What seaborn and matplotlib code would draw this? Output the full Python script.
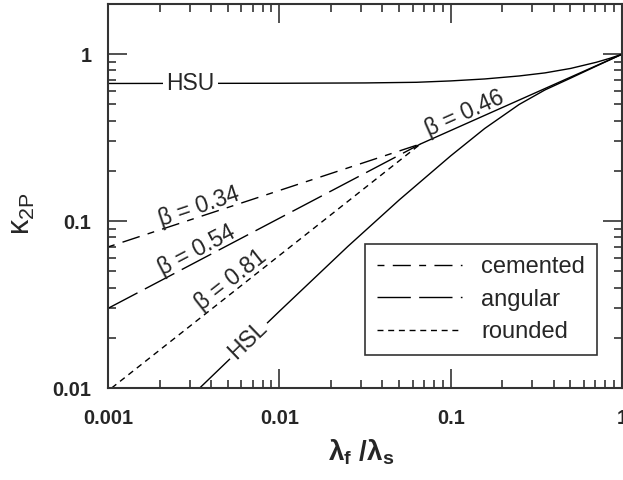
import numpy as np
import pandas as pd
import matplotlib
matplotlib.use("Agg")
import matplotlib.pyplot as plt
import seaborn as sns
from matplotlib.ticker import LogLocator, NullFormatter

# ---------------- data ----------------
hsu_x = [0.001, 0.01, 0.0316, 0.0631, 0.1, 0.158, 0.251, 0.355, 0.501, 0.708, 0.851, 1.0]
hsu_y = [0.668, 0.670, 0.673, 0.679, 0.692, 0.711, 0.741, 0.773, 0.822, 0.895, 0.946, 1.0]

hsl_x = [0.00343, 0.01, 0.0251, 0.0501, 0.1, 0.158, 0.251, 0.355, 0.501, 0.708, 1.0]
hsl_y = [0.01, 0.0288, 0.0705, 0.134, 0.246, 0.359, 0.50, 0.611, 0.719, 0.849, 1.0]

cemented_x = [0.001, 0.0667]
cemented_y = [0.070, 0.29]
angular_x = [0.001, 0.0667]
angular_y = [0.030, 0.29]
rounded_x = [0.00105, 0.0667]
rounded_y = [0.010, 0.29]
common_x = [0.0667, 1.0]
common_y = [0.29, 1.0]

x_ticks = [0.001, 0.01, 0.1, 1]
x_tick_labels = ["0.001", "0.01", "0.1", "1"]
y_ticks = [0.01, 0.1, 1]
y_tick_labels = ["0.01", "0.1", "1"]
legend_labels = ["cemented", "angular", "rounded"]

# ---------------- style ----------------
sns.set_theme(style="ticks")
plt.rcParams["font.family"] = ["Liberation Sans", "DejaVu Sans"]
plt.rcParams["mathtext.fontset"] = "custom"
plt.rcParams["mathtext.rm"] = "Liberation Sans"
plt.rcParams["mathtext.it"] = "Liberation Sans:italic"
plt.rcParams["mathtext.bf"] = "Liberation Sans:bold"

fig = plt.figure(figsize=(6.23, 4.8), dpi=100)
ax = fig.add_axes([108 / 623, 92 / 480, 514 / 623, 384 / 480])
ax.set_xscale("log")
ax.set_yscale("log")


def draw(x, y, ls):
    sns.lineplot(x=x, y=y, ax=ax, color="black", linewidth=1.0, sort=False,
                 estimator=None, errorbar=None, legend=False)
    line = ax.lines[-1]
    line.set_linestyle(ls)
    return line


draw(hsu_x, hsu_y, "-")
draw(hsl_x, hsl_y, "-")
draw(common_x, common_y, "-")
l_cem = draw(cemented_x, cemented_y, (0, (5, 6, 13, 6)))
l_ang = draw(angular_x, angular_y, (0, (24, 6)))
l_rnd = draw(rounded_x, rounded_y, (0, (4.3, 3.4)))

ax.set_xlim(0.001, 1)
ax.set_ylim(0.01, 2)
ax.set_xticks(x_ticks)
ax.set_xticklabels(x_tick_labels)
ax.set_yticks(y_ticks)
ax.set_yticklabels(y_tick_labels)
ax.xaxis.set_minor_locator(LogLocator(base=10, subs=np.arange(2, 10)))
ax.yaxis.set_minor_locator(LogLocator(base=10, subs=np.arange(2, 10)))
ax.xaxis.set_minor_formatter(NullFormatter())
ax.yaxis.set_minor_formatter(NullFormatter())

ax.tick_params(which="both", direction="in", top=True, right=True,
               width=1.1, color="#222222")
ax.tick_params(which="major", length=13.5)
ax.tick_params(which="minor", length=6)
ax.tick_params(axis="x", pad=15, labelsize=14.4)
ax.tick_params(axis="y", pad=12, labelsize=14.4)
for lab in ax.get_xticklabels() + ax.get_yticklabels():
    lab.set_fontweight("bold")
for s in ax.spines.values():
    s.set_linewidth(1.5)
    s.set_color("#333333")

# labels
ax.set_xlabel(r"λ$_\mathbf{f}$ /λ$_\mathbf{s}$", fontsize=20, fontweight="bold")
ax.xaxis.set_label_coords(0.492, -0.13)
ax.set_ylabel(r"κ$_\mathrm{2P}$", fontsize=22)
ax.yaxis.set_label_coords(-0.138, 0.453)

# annotations
fs = 16.5
box = dict(boxstyle="square,pad=0.15", fc="white", ec="none")
ax.text(0.00304, 0.67, "HSU", ha="center", va="center", fontsize=fs,
        bbox=box, zorder=5)
ax.text(0.00652, 0.0194, "HSL", ha="center", va="center", fontsize=fs,
        rotation=44, rotation_mode="anchor", bbox=box, zorder=5)
ax.text(0.125, 0.405, "β = 0.46", ha="center", va="baseline", fontsize=fs,
        rotation=24, rotation_mode="anchor", zorder=5)
ax.text(0.00351, 0.1125, "β = 0.34", ha="center", va="baseline", fontsize=fs,
        rotation=18.5, rotation_mode="anchor", zorder=5)
ax.text(0.00343, 0.0617, "β = 0.54", ha="center", va="baseline", fontsize=fs,
        rotation=27.7, rotation_mode="anchor", zorder=5)
ax.text(0.0055, 0.0412, "β = 0.81", ha="center", va="baseline", fontsize=fs,
        rotation=38.2, rotation_mode="anchor", zorder=5)

leg = ax.legend(handles=[l_cem, l_ang, l_rnd], labels=legend_labels,
                loc="lower right", bbox_to_anchor=(0.951, 0.086),
                borderaxespad=0, frameon=True, fancybox=False, framealpha=1,
                edgecolor="#333333", fontsize=17, handlelength=3.6,
                handletextpad=0.8, borderpad=0.5, labelspacing=0.45)
leg.get_frame().set_linewidth(1.2)

fig.savefig("out.png", dpi=100)
